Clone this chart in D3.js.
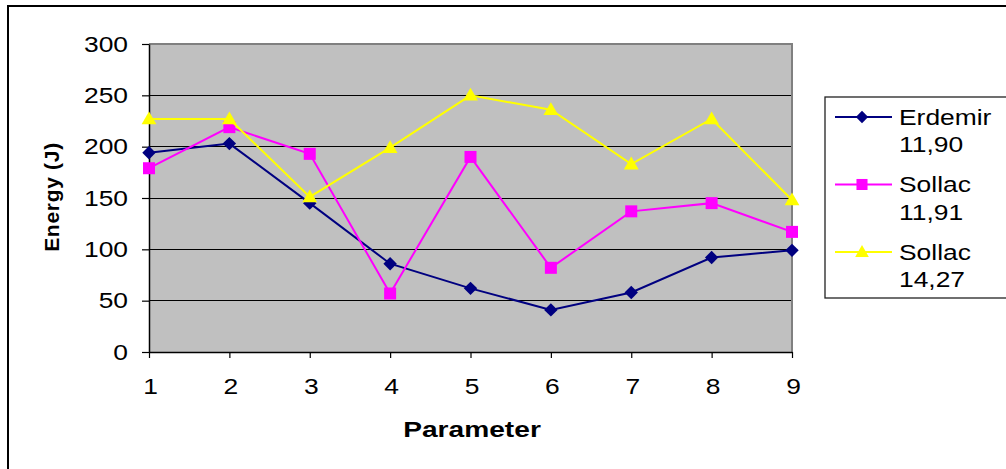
<!DOCTYPE html>
<html>
<head>
<meta charset="utf-8">
<script src="https://cdn.jsdelivr.net/npm/d3@7"></script>
<style>
  html, body { margin: 0; padding: 0; background: #fff; }
  svg { display: block; }
  text { font-family: "Liberation Sans", Arial, Helvetica, sans-serif; }
</style>
</head>
<body>
<svg id="chart" width="1006" height="469"></svg>
<script>
const categories = ["1", "2", "3", "4", "5", "6", "7", "8", "9"];
const erdemir1190 = [194, 203, 145, 86, 62, 41, 58, 92, 99];
const sollac1191  = [179, 219, 193, 57, 190, 82, 137, 145, 117];
const sollac1427  = [227, 227, 151, 199, 250, 236, 183, 227, 148];
const yTicks = [0, 50, 100, 150, 200, 250, 300];
const seriesNames = [["Erdemir", "11,90"], ["Sollac", "11,91"], ["Sollac", "14,27"]];
const seriesColors = ["#000080", "#FF00FF", "#FFFF00"];

const svg = d3.select("#chart");
const pLeft = 149, pRight = 792, pTop = 44, pBottom = 352;

const x = d3.scalePoint().domain(categories).range([pLeft, pRight]).padding(0);
const y = d3.scaleLinear().domain([0, 300]).range([pBottom, pTop]);

const fontSize = 22;
const stretch = 1.2;

// outer frame
svg.append("rect").attr("x", 8).attr("y", 6).attr("width", 1010).attr("height", 480)
  .attr("fill", "none").attr("stroke", "#000").attr("stroke-width", 2);

// plot background
svg.append("rect").attr("x", pLeft).attr("y", pTop).attr("width", pRight - pLeft).attr("height", pBottom - pTop)
  .attr("fill", "#C0C0C0");

// gridlines
svg.append("g").selectAll("line").data(yTicks.filter(d => d > 0 && d < 300)).join("line")
  .attr("x1", pLeft).attr("x2", pRight)
  .attr("y1", d => y(d)).attr("y2", d => y(d))
  .attr("stroke", "#000").attr("stroke-width", 1).attr("shape-rendering", "crispEdges");

// plot border (top/right gray)
svg.append("path")
  .attr("d", `M${pLeft},${y(300)}H${pRight}V${pBottom}`)
  .attr("fill", "none").attr("stroke", "#808080").attr("stroke-width", 2);

function stretchText(sel) {
  sel.each(function() {
    const t = d3.select(this);
    const tx = +t.attr("x") || 0;
    t.attr("x", 0).attr("transform", `translate(${tx},0) scale(${stretch},1)`);
  });
}

// y axis
const yAxis = svg.append("g").attr("transform", `translate(${pLeft},0)`)
  .call(d3.axisLeft(y).tickValues(yTicks).tickSize(7).tickSizeOuter(0).tickPadding(14));
yAxis.select(".domain").attr("stroke", "#000").attr("stroke-width", 1.5);
yAxis.selectAll(".tick line").attr("stroke", "#000").attr("stroke-width", 1.2);
yAxis.selectAll("text").attr("font-size", fontSize)
  .attr("fill", "#000").attr("font-family", "Liberation Sans, Arial, sans-serif")
  .call(stretchText);

// x axis
const xAxis = svg.append("g").attr("transform", `translate(0,${pBottom})`)
  .call(d3.axisBottom(x).tickSize(6).tickSizeOuter(0).tickPadding(20.5));
xAxis.select(".domain").attr("stroke", "#000").attr("stroke-width", 1.5);
xAxis.selectAll(".tick line").attr("stroke", "#000").attr("stroke-width", 1.2);
xAxis.selectAll("text").attr("font-size", fontSize)
  .attr("fill", "#000").attr("font-family", "Liberation Sans, Arial, sans-serif")
  .attr("x", 1).call(stretchText);

// axis titles
svg.append("text").attr("transform", "translate(472,437) scale(1.28,1)").attr("text-anchor", "middle")
  .attr("font-size", 22).attr("font-weight", "bold")
  .text("Parameter");
svg.append("text").attr("transform", "translate(58.5,197) rotate(-90)").attr("text-anchor", "middle")
  .attr("font-size", 21).attr("font-weight", "bold").attr("letter-spacing", "0.7px")
  .text("Energy (J)");

// markers
const markerTypes = [
  { sym: d3.symbolSquare, size: 90, rot: 45 },
  { sym: d3.symbolSquare, size: 144, rot: 0 },
  { sym: d3.symbolTriangle, size: 95, rot: 0 }
];

const allSeries = [erdemir1190, sollac1191, sollac1427];
const line = d3.line().x((d, i) => x(categories[i])).y(d => y(d));

allSeries.forEach((vals, si) => {
  const g = svg.append("g");
  g.append("path").datum(vals).attr("d", line)
    .attr("fill", "none").attr("stroke", seriesColors[si]).attr("stroke-width", 2);
  const m = markerTypes[si];
  g.selectAll("path.m").data(vals).join("path").attr("class", "m")
    .attr("d", d3.symbol().type(m.sym).size(m.size))
    .attr("transform", (d, i) => `translate(${x(categories[i])},${y(d) + (si === 2 ? 1 : 0)}) rotate(${m.rot})`)
    .attr("fill", seriesColors[si]);
});

// legend
const lg = svg.append("g");
lg.append("rect").attr("x", 825).attr("y", 97).attr("width", 200).attr("height", 201)
  .attr("fill", "#fff").attr("stroke", "#222").attr("stroke-width", 1.3);
const legendY = [117, 184.5, 252];
seriesNames.forEach((nm, si) => {
  const ly = legendY[si];
  lg.append("line").attr("x1", 835).attr("x2", 892).attr("y1", ly).attr("y2", ly)
    .attr("stroke", seriesColors[si]).attr("stroke-width", 2);
  const m = markerTypes[si];
  lg.append("path").attr("d", d3.symbol().type(m.sym).size(m.size * 0.85))
    .attr("transform", `translate(862,${ly + (si === 2 ? 1 : 0)}) rotate(${m.rot})`)
    .attr("fill", seriesColors[si]);
  lg.append("text").attr("transform", `translate(899,${ly}) scale(${stretch},1)`).attr("dy", "0.36em")
    .attr("font-size", fontSize).text(nm[0]);
  lg.append("text").attr("transform", `translate(899,${ly + 27.5}) scale(${stretch},1)`).attr("dy", "0.36em")
    .attr("font-size", fontSize).text(nm[1]);
});
</script>
</body>
</html>
